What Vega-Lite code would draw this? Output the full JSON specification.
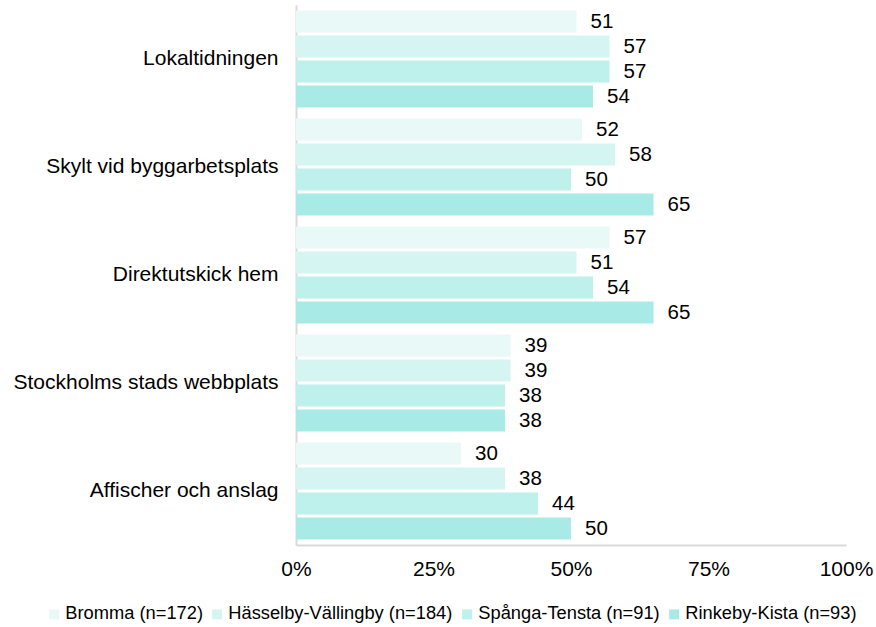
{
  "$schema": "https://vega.github.io/schema/vega-lite/v6.json",
  "width": 550,
  "height": 540,
  "autosize": "none",
  "padding": {"left": 296, "top": 5, "right": 30, "bottom": 82},
  "background": "white",
  "config": {
    "view": {"stroke": null},
    "font": "Liberation Sans"
  },
  "data": {
    "values": [
      {"cat": "Lokaltidningen", "serie": "Bromma (n=172)", "v": 51},
      {"cat": "Lokaltidningen", "serie": "Hässelby-Vällingby (n=184)", "v": 57},
      {"cat": "Lokaltidningen", "serie": "Spånga-Tensta (n=91)", "v": 57},
      {"cat": "Lokaltidningen", "serie": "Rinkeby-Kista (n=93)", "v": 54},
      {"cat": "Skylt vid byggarbetsplats", "serie": "Bromma (n=172)", "v": 52},
      {"cat": "Skylt vid byggarbetsplats", "serie": "Hässelby-Vällingby (n=184)", "v": 58},
      {"cat": "Skylt vid byggarbetsplats", "serie": "Spånga-Tensta (n=91)", "v": 50},
      {"cat": "Skylt vid byggarbetsplats", "serie": "Rinkeby-Kista (n=93)", "v": 65},
      {"cat": "Direktutskick hem", "serie": "Bromma (n=172)", "v": 57},
      {"cat": "Direktutskick hem", "serie": "Hässelby-Vällingby (n=184)", "v": 51},
      {"cat": "Direktutskick hem", "serie": "Spånga-Tensta (n=91)", "v": 54},
      {"cat": "Direktutskick hem", "serie": "Rinkeby-Kista (n=93)", "v": 65},
      {"cat": "Stockholms stads webbplats", "serie": "Bromma (n=172)", "v": 39},
      {"cat": "Stockholms stads webbplats", "serie": "Hässelby-Vällingby (n=184)", "v": 39},
      {"cat": "Stockholms stads webbplats", "serie": "Spånga-Tensta (n=91)", "v": 38},
      {"cat": "Stockholms stads webbplats", "serie": "Rinkeby-Kista (n=93)", "v": 38},
      {"cat": "Affischer och anslag", "serie": "Bromma (n=172)", "v": 30},
      {"cat": "Affischer och anslag", "serie": "Hässelby-Vällingby (n=184)", "v": 38},
      {"cat": "Affischer och anslag", "serie": "Spånga-Tensta (n=91)", "v": 44},
      {"cat": "Affischer och anslag", "serie": "Rinkeby-Kista (n=93)", "v": 50}
    ]
  },
  "encoding": {
    "y": {
      "field": "cat",
      "type": "nominal",
      "sort": null,
      "scale": {"paddingInner": 0, "paddingOuter": 0},
      "axis": {
        "title": null,
        "ticks": false,
        "domainColor": "#d9d9d9",
        "domainWidth": 2,
        "labelFontSize": 21,
        "labelColor": "#000000",
        "labelPadding": 18,
        "labelLimit": 300,
        "labelFont": "Liberation Sans"
      }
    },
    "yOffset": {
      "field": "serie",
      "type": "nominal",
      "sort": null,
      "scale": {"paddingInner": 0.12, "paddingOuter": 0.22}
    },
    "x": {
      "field": "v",
      "type": "quantitative",
      "scale": {"domain": [0, 100], "nice": false},
      "axis": {
        "title": null,
        "values": [0, 25, 50, 75, 100],
        "labelExpr": "datum.value + '%'",
        "labelFlush": false,
        "grid": false,
        "ticks": false,
        "domainColor": "#d9d9d9",
        "domainWidth": 2,
        "labelFontSize": 21,
        "labelColor": "#000000",
        "labelPadding": 13,
        "labelFont": "Liberation Sans"
      }
    }
  },
  "layer": [
    {
      "mark": {"type": "bar"},
      "encoding": {
        "color": {
          "field": "serie",
          "type": "nominal",
          "sort": null,
          "scale": {
            "domain": ["Bromma (n=172)", "Hässelby-Vällingby (n=184)", "Spånga-Tensta (n=91)", "Rinkeby-Kista (n=93)"],
            "range": ["#e8f9f8", "#d4f5f2", "#bef0ec", "#a8ebe6"]
          },
          "legend": {
            "title": null,
            "orient": "none",
            "direction": "horizontal",
            "legendX": -251,
            "legendY": 600,
            "symbolType": "square",
            "symbolSize": 100,
            "symbolStrokeWidth": 0,
            "labelFontSize": 18.3,
            "labelColor": "#000000",
            "labelFont": "Liberation Sans",
            "labelOffset": 2,
            "columnPadding": 5,
            "labelLimit": 400
          }
        }
      }
    },
    {
      "mark": {"type": "text", "align": "left", "baseline": "middle", "dx": 14, "fontSize": 20.5, "color": "#000000", "font": "Liberation Sans"},
      "encoding": {
        "text": {"field": "v", "type": "quantitative"}
      }
    }
  ]
}
